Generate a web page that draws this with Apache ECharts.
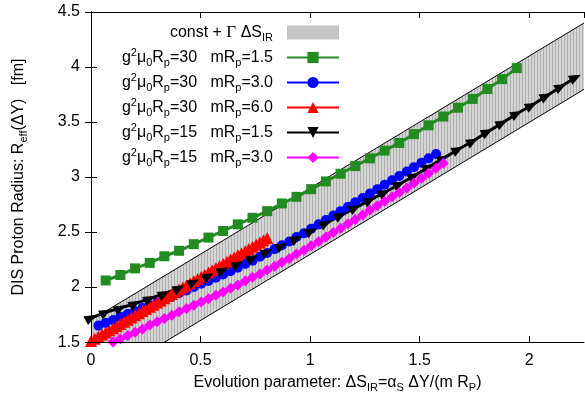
<!DOCTYPE html>
<html>
<head>
<meta charset="utf-8">
<script src="https://cdn.jsdelivr.net/npm/echarts@6/dist/echarts.min.js"></script>
<style>
  html, body { margin: 0; padding: 0; background: #fff; }
  #chart { width: 585px; height: 398px; }
</style>
</head>
<body>
<div id="chart"></div>
<script>
// axes: x = Delta S_IR, y = R_eff [fm]
const xMin = 0, xMax = 2.25, xStep = 0.5;
const yMin = 1.5, yMax = 4.5, yStep = 0.5;

// const + Gamma dS_IR band (lower / upper edge)
const bandX = [0, 2.25];
const bandLow = [1.097, 3.797];
const bandHigh = [1.70, 4.40];

// g2 mu0 Rp = 30, mRp = 1.5
const greenX = [0.067, 0.134, 0.201, 0.268, 0.335, 0.402, 0.469, 0.536, 0.603, 0.670,
  0.737, 0.804, 0.871, 0.938, 1.005, 1.072, 1.139, 1.206, 1.273, 1.340,
  1.407, 1.474, 1.541, 1.608, 1.675, 1.742, 1.809, 1.876, 1.943];
const greenY = [2.06, 2.11, 2.17, 2.22, 2.28, 2.33, 2.39, 2.45, 2.51, 2.57,
  2.63, 2.69, 2.76, 2.82, 2.89, 2.96, 3.03, 3.10, 3.17, 3.24,
  3.31, 3.39, 3.47, 3.55, 3.63, 3.71, 3.80, 3.89, 3.99];

// g2 mu0 Rp = 30, mRp = 3.0
const blueX = [0.034, 0.067, 0.101, 0.134, 0.168, 0.201, 0.235, 0.268, 0.302, 0.335,
  0.369, 0.402, 0.436, 0.469, 0.503, 0.536, 0.570, 0.603, 0.637, 0.670,
  0.704, 0.737, 0.771, 0.804, 0.838, 0.871, 0.905, 0.938, 0.972, 1.005,
  1.039, 1.072, 1.106, 1.139, 1.173, 1.206, 1.240, 1.273, 1.307, 1.340,
  1.374, 1.407, 1.441, 1.474, 1.508, 1.541, 1.575];
const blueY = [1.65, 1.675, 1.70, 1.73, 1.755, 1.78, 1.81, 1.835, 1.86, 1.89,
  1.915, 1.945, 1.97, 2.00, 2.03, 2.055, 2.085, 2.115, 2.145, 2.175,
  2.21, 2.24, 2.275, 2.31, 2.345, 2.38, 2.415, 2.455, 2.49, 2.53,
  2.57, 2.61, 2.65, 2.69, 2.73, 2.77, 2.81, 2.85, 2.89, 2.93,
  2.97, 3.01, 3.05, 3.09, 3.13, 3.17, 3.21];

// g2 mu0 Rp = 30, mRp = 6.0
const redX = [0.000, 0.017, 0.034, 0.050, 0.067, 0.084, 0.101, 0.117, 0.134, 0.151,
  0.168, 0.184, 0.201, 0.218, 0.235, 0.251, 0.268, 0.285, 0.302, 0.318,
  0.335, 0.352, 0.369, 0.385, 0.402, 0.419, 0.436, 0.452, 0.469, 0.486,
  0.503, 0.519, 0.536, 0.553, 0.570, 0.586, 0.603, 0.620, 0.637, 0.653,
  0.670, 0.687, 0.704, 0.720, 0.737, 0.754, 0.771, 0.787, 0.804];
const redY = [1.510, 1.530, 1.549, 1.568, 1.587, 1.607, 1.626, 1.645, 1.665, 1.684,
  1.704, 1.723, 1.743, 1.762, 1.782, 1.801, 1.821, 1.840, 1.860, 1.879,
  1.899, 1.918, 1.938, 1.957, 1.977, 1.996, 2.016, 2.035, 2.055, 2.074,
  2.094, 2.113, 2.133, 2.152, 2.172, 2.191, 2.211, 2.230, 2.250, 2.269,
  2.289, 2.308, 2.328, 2.347, 2.367, 2.386, 2.406, 2.425, 2.445];

// g2 mu0 Rp = 15, mRp = 1.5
const blackX = [0.000, 0.067, 0.134, 0.201, 0.268, 0.335, 0.402, 0.469, 0.536, 0.603,
  0.670, 0.737, 0.804, 0.871, 0.938, 1.005, 1.072, 1.139, 1.206, 1.273,
  1.340, 1.407, 1.474, 1.541, 1.608, 1.675, 1.742, 1.809, 1.876, 1.943,
  2.010, 2.077, 2.144, 2.211];
const blackY = [1.72, 1.77, 1.81, 1.85, 1.895, 1.94, 1.99, 2.045, 2.10, 2.155,
  2.21, 2.265, 2.32, 2.375, 2.44, 2.51, 2.58, 2.65, 2.72, 2.79,
  2.86, 2.935, 3.01, 3.09, 3.17, 3.25, 3.325, 3.41, 3.49, 3.575,
  3.65, 3.735, 3.82, 3.905];

// g2 mu0 Rp = 15, mRp = 3.0
const magentaX = [0.101, 0.134, 0.168, 0.201, 0.235, 0.268, 0.302, 0.335, 0.369, 0.402,
  0.436, 0.469, 0.503, 0.536, 0.570, 0.603, 0.637, 0.670, 0.704, 0.737,
  0.771, 0.804, 0.838, 0.871, 0.905, 0.938, 0.972, 1.005, 1.039, 1.072,
  1.106, 1.139, 1.173, 1.206, 1.240, 1.273, 1.307, 1.340, 1.374, 1.407,
  1.441, 1.474, 1.508, 1.541, 1.575, 1.608];
const magentaY = [1.50, 1.53, 1.56, 1.59, 1.62, 1.655, 1.685, 1.715, 1.745, 1.775,
  1.805, 1.835, 1.865, 1.895, 1.925, 1.955, 1.99, 2.02, 2.055, 2.09,
  2.12, 2.155, 2.19, 2.225, 2.26, 2.30, 2.335, 2.375, 2.415, 2.455,
  2.495, 2.535, 2.575, 2.615, 2.655, 2.70, 2.74, 2.78, 2.82, 2.86,
  2.90, 2.945, 2.99, 3.035, 3.08, 3.125];

const legendText = {
  band: 'const + {G|Γ} ΔS{sub|IR}',
  g30m15: 'g{sup|2}μ{sub|0}R{sub|p}=30   mR{sub|p}=1.5',
  g30m30: 'g{sup|2}μ{sub|0}R{sub|p}=30   mR{sub|p}=3.0',
  g30m60: 'g{sup|2}μ{sub|0}R{sub|p}=30   mR{sub|p}=6.0',
  g15m15: 'g{sup|2}μ{sub|0}R{sub|p}=15   mR{sub|p}=1.5',
  g15m30: 'g{sup|2}μ{sub|0}R{sub|p}=15   mR{sub|p}=3.0'
};

const FONT = 'Liberation Sans';
const richStyles = {
  sup: { fontFamily: FONT, fontSize: 11, lineHeight: 10, verticalAlign: 'top' },
  sub: { fontFamily: FONT, fontSize: 11, lineHeight: 10, verticalAlign: 'bottom' },
  G: { fontFamily: 'Liberation Serif', fontSize: 17 }
};

const pts = (xs, ys) => xs.map((x, i) => [x, ys[i]]);

// vertical hatch for the band
function hatch() {
  const c = document.createElement('canvas');
  c.width = 3; c.height = 4;
  const ctx = c.getContext('2d');
  ctx.fillStyle = '#d4d4d4'; ctx.fillRect(0, 0, 3, 4);
  ctx.fillStyle = '#b0b0b0'; ctx.fillRect(0, 0, 1, 4);
  return c;
}

function lineSeries(name, xs, ys, color, symbol, size, extra) {
  return Object.assign({
    name: name,
    type: 'line',
    data: pts(xs, ys),
    symbol: symbol,
    symbolSize: size,
    showAllSymbol: true,
    lineStyle: { color: color, width: 3 },
    itemStyle: { color: color },
    z: 3
  }, extra || {});
}

const chart = echarts.init(document.getElementById('chart'));

const axisCommon = {
  type: 'value',
  z: 10,
  axisLine: { show: true, lineStyle: { color: '#000', width: 1 } },
  axisTick: { show: true, inside: true, length: 6, lineStyle: { color: '#000' } },
  splitLine: { show: false }
};

chart.setOption({
  animation: false,
  textStyle: { fontFamily: FONT },
  grid: { left: 91, right: 1, top: 12, bottom: 50 },
  legend: {
    orient: 'vertical',
    right: 245,
    top: 22,
    align: 'right',
    padding: 0,
    itemGap: 4,
    itemWidth: 52,
    itemHeight: 14,
    formatter: name => legendText[name],
    textStyle: {
      fontFamily: FONT, fontSize: 16, color: '#000', lineHeight: 21,
      padding: [0, 9, 0, 0], rich: richStyles
    },
    data: [
      { name: 'band', icon: 'rect', itemStyle: { color: '#c6c6c6', borderWidth: 0 } },
      { name: 'g30m15' },
      { name: 'g30m30' },
      { name: 'g30m60' },
      { name: 'g15m15', symbolRotate: 180 },
      { name: 'g15m30' }
    ]
  },
  xAxis: [
    Object.assign({}, axisCommon, {
      min: xMin, max: xMax, interval: xStep,
      axisLabel: { color: '#000', fontSize: 16, margin: 10, showMaxLabel: false },
      name: 'Evolution parameter: ΔS{sub|IR}=α{sub|S} ΔY/(m R{sub|P})',
      nameLocation: 'middle',
      nameGap: 29,
      nameTextStyle: { color: '#000', fontSize: 16, lineHeight: 20, rich: richStyles }
    }),
    Object.assign({}, axisCommon, {
      position: 'top', min: xMin, max: xMax, interval: xStep,
      axisLabel: { show: false }
    })
  ],
  yAxis: [
    Object.assign({}, axisCommon, {
      min: yMin, max: yMax, interval: yStep,
      axisLabel: { color: '#000', fontSize: 16, margin: 11 },
      name: 'DIS Proton Radius: R{sub|eff}(ΔY)   [fm]',
      nameLocation: 'middle',
      nameGap: 62,
      nameTextStyle: { color: '#000', fontSize: 16, lineHeight: 20, rich: richStyles }
    }),
    Object.assign({}, axisCommon, {
      position: 'right', min: yMin, max: yMax, interval: yStep,
      axisLabel: { show: false }
    })
  ],
  series: [
    {
      // upper edge, hatched fill down to the axis
      name: 'band', type: 'line', symbol: 'none', silent: true,
      data: pts(bandX, bandHigh),
      lineStyle: { color: '#000', width: 1 },
      itemStyle: { color: '#c6c6c6' },
      areaStyle: { color: { image: hatch(), repeat: 'repeat' }, opacity: 1, origin: 'start' },
      z: 1
    },
    {
      // lower edge, white fill hides the hatch below it
      name: 'bandLow', type: 'line', symbol: 'none', silent: true,
      data: pts(bandX, bandLow),
      lineStyle: { color: '#000', width: 1 },
      areaStyle: { color: '#fff', opacity: 1, origin: 'start' },
      z: 2
    },
    lineSeries('g30m15', greenX, greenY, '#228b22', 'rect', 10),
    lineSeries('g30m30', blueX, blueY, '#0000ff', 'circle', 10),
    lineSeries('g30m60', redX, redY, '#ff0000', 'triangle', 12),
    lineSeries('g15m15', blackX, blackY, '#000000', 'triangle', [10, 12], { symbolRotate: -62 }),
    lineSeries('g15m30', magentaX, magentaY, '#ff00ff', 'diamond', 11)
  ]
});
</script>
</body>
</html>
